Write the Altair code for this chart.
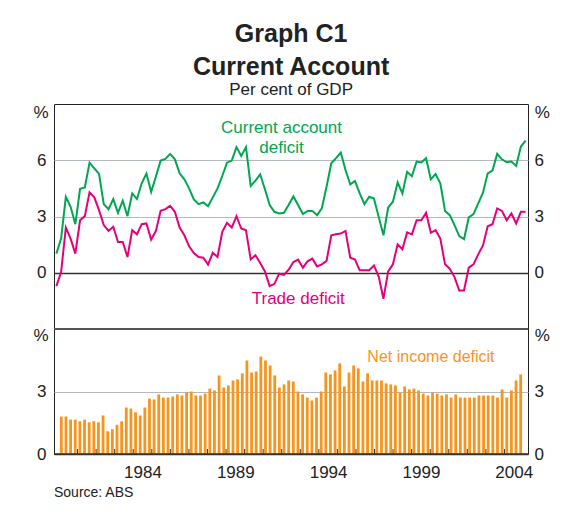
import altair as alt
import pandas as pd

FONT = "Liberation Sans"
GREEN = "#00a650"
MAGENTA = "#e4007c"
ORANGE = "#f7941d"
INK = "#222222"
GRID = "#b4b9be"

# Quarterly data, 1980 Q1 to 2004 Q4, per cent of GDP
start_year = 1980
current_account = [
    1.02, 1.82, 4.05, 3.52, 2.59, 4.48, 4.55, 5.87, 5.57, 5.27,
    3.66, 3.39, 3.93, 3.20, 3.84, 3.02, 4.23, 3.93, 4.77, 5.29,
    4.32, 5.13, 5.98, 6.07, 6.34, 6.05, 5.30, 4.98, 4.50, 3.91,
    3.66, 3.75, 3.55, 4.02, 4.50, 5.16, 5.87, 5.98, 6.70, 6.23,
    6.70, 4.63, 4.91, 5.25, 4.45, 3.61, 3.25, 3.16, 3.20, 3.61,
    4.07, 3.61, 3.13, 3.30, 3.30, 3.07, 3.43, 4.59, 5.84, 6.11,
    6.41, 5.48, 4.71, 4.89, 4.23, 3.66, 4.05, 3.96, 2.98, 2.00,
    3.48, 3.79, 4.82, 4.23, 5.38, 5.15, 5.93, 5.88, 6.11, 4.98,
    5.27, 4.77, 3.29, 3.07, 2.54, 1.95, 1.79, 2.95, 3.13, 3.70,
    4.27, 5.30, 5.45, 6.34, 6.05, 5.89, 5.93, 5.70, 6.73, 7.05,
]
trade_deficit = [
    -0.71, 0.04, 2.41, 1.82, 1.02, 2.80, 3.02, 4.29, 4.02, 3.34,
    2.54, 2.23, 2.45, 1.64, 1.64, 0.84, 2.27, 2.05, 2.59, 2.63,
    1.77, 2.23, 3.30, 3.39, 3.57, 3.25, 2.41, 2.00, 1.41, 1.05,
    0.84, 0.80, 0.43, 1.07, 0.84, 2.18, 2.66, 2.41, 3.02, 2.36,
    2.27, 0.71, 0.93, 0.52, 0.07, -0.71, -0.59, -0.05, -0.11, 0.16,
    0.57, 0.70, 0.27, 0.61, 0.75, 0.34, 0.45, 0.63, 2.00, 2.05,
    2.09, 2.23, 0.80, 0.70, 0.13, 0.13, 0.13, 0.39, -0.20, -1.39,
    0.07, 0.45, 1.52, 1.25, 2.15, 2.05, 2.80, 2.80, 3.20, 2.13,
    2.27, 1.82, 0.45, 0.21, -0.23, -0.95, -0.95, 0.27, 0.45, 0.98,
    1.46, 2.48, 2.59, 3.43, 3.30, 2.80, 3.16, 2.63, 3.25, 3.25,
]
net_income = [
    1.80, 1.80, 1.65, 1.65, 1.57, 1.65, 1.52, 1.57, 1.52, 1.85,
    1.09, 1.19, 1.41, 1.57, 2.23, 2.18, 2.00, 1.85, 2.23, 2.66,
    2.62, 2.86, 2.71, 2.71, 2.76, 2.86, 2.81, 2.97, 3.00, 2.81,
    2.81, 2.90, 3.14, 3.05, 3.77, 3.19, 3.29, 3.53, 3.58, 3.87,
    4.49, 3.91, 3.96, 4.68, 4.49, 4.25, 3.77, 3.19, 3.34, 3.53,
    3.48, 3.00, 2.86, 2.71, 2.57, 2.71, 3.00, 3.91, 3.82, 4.01,
    4.35, 3.24, 3.91, 4.25, 4.11, 3.48, 3.87, 3.53, 3.53, 3.53,
    3.39, 3.34, 3.29, 2.95, 3.24, 3.10, 3.14, 3.05, 2.90, 2.81,
    2.95, 2.90, 2.81, 2.86, 2.71, 2.86, 2.71, 2.71, 2.71, 2.71,
    2.81, 2.81, 2.81, 2.81, 2.71, 3.10, 2.71, 3.05, 3.53, 3.82,
]
label_years = [1984, 1989, 1994, 1999, 2004]
tick_years = list(range(1981, 2005))

dates = [start_year + (i + 0.5) / 4 for i in range(len(current_account))]
df = pd.DataFrame({"date": dates, "cad": current_account,
                   "trade": trade_deficit, "nid": net_income})
ticks_df = pd.DataFrame({"year": tick_years})
one = alt.Data(values=[{}])

W, HT, HB = 474, 225, 125
xscale = alt.Scale(domain=[1980, 2005], nice=False, zero=False)
ytop = alt.Scale(domain=[-3, 9], nice=False, zero=False)
ybot = alt.Scale(domain=[0, 6], nice=False, zero=False)


def yaxis(orient, values, title_y, grid):
    kw = dict(orient=orient, values=values, ticks=False, domain=False,
              labelPadding=8 if orient == "left" else 6,
              labelFontSize=17, labelFont=FONT, labelColor=INK,
              title="%", titleAngle=0, titleAlign="center", titleBaseline="middle",
              titleX=-13.5 if orient == "left" else 13.7, titleY=title_y,
              titleFont=FONT, titleFontSize=17, titleFontWeight="normal",
              titleColor=INK, grid=grid)
    if grid:
        kw["gridColor"] = {"condition": {"test": "datum.value === 0", "value": "#333333"},
                           "value": GRID}
        kw["gridWidth"] = {"condition": {"test": "datum.value === 0", "value": 1.3},
                           "value": 1}
    return alt.Axis(**kw)


def xaxis_bottom():
    return alt.Axis(values=[y + 0.5 for y in label_years],
                    labelExpr="'' + floor(datum.value)",
                    ticks=False, domain=False, grid=False, labelPadding=10,
                    labelFontSize=17, labelFont=FONT, labelColor=INK, title=None)


# ---------- top panel ----------
green = alt.Chart(df).mark_line(color=GREEN, strokeWidth=2).encode(
    x=alt.X("date:Q", scale=xscale, axis=None),
    y=alt.Y("cad:Q", scale=ytop, axis=yaxis("left", [0, 3, 6], 8, True)),
)
magenta = alt.Chart(df).mark_line(color=MAGENTA, strokeWidth=2).encode(
    x=alt.X("date:Q", scale=xscale, axis=None),
    y=alt.Y("trade:Q", scale=ytop, axis=yaxis("right", [0, 3, 6], 8, False)),
)


def label(text, color, xv, yv, scale, xaxis=None, size=17):
    return alt.Chart(one).mark_text(
        text=text, color=color, font=FONT, fontSize=size,
        align="center", baseline="alphabetic",
    ).encode(
        x=alt.X(datum=xv, scale=xscale, axis=xaxis),
        y=alt.Y(datum=yv, scale=scale, axis=None),
    )


top = alt.layer(
    green, magenta,
    label("Current account", GREEN, 1992.0, 7.45, ytop),
    label("deficit", GREEN, 1992.0, 6.41, ytop),
    label("Trade deficit", MAGENTA, 1992.88, -1.66, ytop),
).resolve_axis(y="independent").properties(width=W, height=HT)

# ---------- bottom panel ----------
bars = alt.Chart(df).mark_bar(color=ORANGE, size=2.8).encode(
    x=alt.X("date:Q", scale=xscale, axis=xaxis_bottom()),
    y=alt.Y("nid:Q", scale=ybot, axis=yaxis("left", [0, 3], 6.5, True)),
)
tick_marks = alt.Chart(ticks_df).mark_rule(color="#333333", strokeWidth=1).encode(
    x=alt.X("year:Q", scale=xscale, axis=xaxis_bottom()),
    y=alt.Y(datum=0, scale=ybot, axis=yaxis("right", [0, 3], 6.5, False)),
    y2=alt.value(HB - 5),
)
divider = alt.Chart(one).mark_rule(color="#555555", strokeWidth=2).encode(
    y=alt.Y(datum=6, scale=ybot, axis=None))
zero_line = alt.Chart(one).mark_rule(color="#333333", strokeWidth=1.3).encode(
    y=alt.Y(datum=0, scale=ybot, axis=None))
source = alt.Chart(one).mark_text(
    text="Source: ABS", align="left", baseline="alphabetic",
    font=FONT, fontSize=14, color=INK,
).encode(x=alt.value(0), y=alt.value(HB + 43))

bottom = alt.layer(
    bars, tick_marks, divider, zero_line, source,
    label("Net income deficit", ORANGE, 2000.04, 4.40, ybot, xaxis_bottom(), 16),
).resolve_axis(y="independent").properties(width=W, height=HB)

chart = alt.vconcat(top, bottom, spacing=0, bounds="flush").properties(
    title=alt.TitleParams(
        text=["Graph C1", "Current Account"],
        subtitle="Per cent of GDP",
        font=FONT, fontSize=25, fontWeight="bold", color=INK, lineHeight=33,
        subtitleFont=FONT, subtitleFontSize=17, subtitleColor=INK,
        subtitlePadding=2, anchor="middle", offset=5,
    ),
    padding={"left": 24, "top": 13, "right": 5, "bottom": 5},
).configure_view(stroke="#222222", strokeWidth=1)

chart.save("out.html", embed_options={"renderer": "svg", "actions": False})
